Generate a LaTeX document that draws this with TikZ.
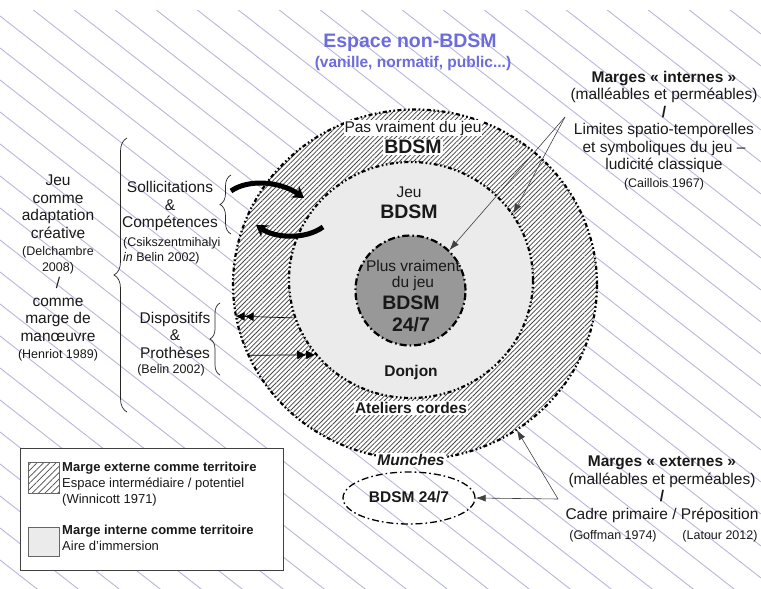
\documentclass[tikz,border=0pt]{standalone}
\usepackage{fontspec}
\setmainfont{Liberation Sans}
\usetikzlibrary{shapes.geometric,arrows.meta,patterns.meta,decorations.pathreplacing}

\definecolor{titleblue}{RGB}{108,108,220}
\definecolor{bgline}{RGB}{184,184,222}
\definecolor{innergrey}{RGB}{235,235,235}
\definecolor{coregrey}{RGB}{152,152,152}
\definecolor{hatchgrey}{RGB}{70,70,70}

\newcommand{\sznorm}{\fontsize{15.5}{17.5}\selectfont}
\newcommand{\szsmall}{\fontsize{12.5}{15}\selectfont}
\newcommand{\szbig}{\fontsize{19.5}{21}\selectfont}
\newcommand{\szleg}{\fontsize{13}{16}\selectfont}

\tikzset{
  lbl/.style={inner sep=0pt, font=\sznorm, text=black!90},
  lblbold/.style={lbl, font=\sznorm\bfseries},
  lblbig/.style={lbl, font=\szbig\bfseries},
  cite/.style={lbl, font=\szsmall},
  whitebox/.style={fill=white, inner sep=1pt},
  ringline/.style={draw, line width=2.2pt, dash pattern=on 4pt off 2.5pt on 1.6pt off 2.5pt on 1.6pt off 2.5pt},
  pointer/.style={draw=black!75, line width=0.6pt, -{Latex[length=10pt,width=7pt]}},
  dblpointer/.style={draw=black, line width=0.7pt, -{Latex[length=9pt,width=9pt] Latex[length=9pt,width=9pt]}},
  swoosh/.style={line width=5pt, -{Stealth[length=11pt,width=14pt]}},
  bracket/.style={draw=black!85, line width=0.7pt, decorate}
}

\begin{document}
\begin{tikzpicture}[x=1pt,y=-1pt]
\useasboundingbox (0,0) rectangle (761,589);
\fill[white] (0,0) rectangle (761,589);

% fond hachure (espace non-BDSM)
\begin{scope}
  \clip (0,10) rectangle (761,589);
  \foreach \c in {-624,-592,...,592}
    \draw[bgline, line width=0.9pt] (0,\c) -- (761,{\c+594});
\end{scope}

% les trois espaces
\node[ellipse, ringline, minimum width=364pt, minimum height=350pt, inner sep=0pt,
      preaction={fill=white}, pattern={Lines[angle=45,distance=3.3pt,line width=0.75pt]},
      pattern color=hatchgrey] (outer) at (415,284.5) {};
\node[ellipse, ringline, fill=innergrey, minimum width=244pt, minimum height=236pt,
      inner sep=0pt] (inner) at (411,280) {};
\node[circle, draw, fill=coregrey, line width=2.2pt, minimum size=110pt, inner sep=0pt,
      dash pattern=on 7pt off 3pt on 1.6pt off 3pt] (core) at (410.5,290.5) {};
\node[ellipse, draw, line width=1.3pt, minimum width=132pt, minimum height=52pt, inner sep=0pt,
      dash pattern=on 7pt off 3pt on 1.6pt off 3pt] (munch) at (409,498) {};

% titre
\node[lbl, font=\szbig\bfseries, text=titleblue] (title) at (410,43) {Espace non-BDSM};
\node[lbl, font=\sznorm\bfseries, text=titleblue] (subtitle) at (413,63) {(vanille, normatif, public...)};

% textes des espaces
\node[lbl, whitebox] (pasjeu) at (413,128) {Pas vraiment du jeu};
\node[lblbig, whitebox] (pasbdsm) at (413,147) {BDSM};
\node[lbl] (jeu) at (409,192) {Jeu};
\node[lblbig] (jeubdsm) at (409,212) {BDSM};
\node[lbl] (plus) at (413,266) {Plus vraiment};
\node[lbl] (plusjeu) at (413,283) {du jeu};
\node[lblbig] (plusbdsm) at (411,303) {BDSM};
\node[lblbig] (plus247) at (411,325) {24/7};
\node[lblbold] (donjon) at (411,372) {Donjon};
\node[lblbold, whitebox] (ateliers) at (411,408) {Ateliers cordes};
\node[lblbold, whitebox, font=\sznorm\bfseries\itshape] (munches) at (411,460) {Munches};
\node[lblbold] (bdsm247) at (409,497) {BDSM 24/7};

% marges internes
\node[lbl, align=center, anchor=north] (mint) at (664,71) {%
  {\bfseries Marges « internes »}\\
  (malléables et perméables)\\
  {\bfseries /}\\
  Limites spatio-temporelles\\
  et symboliques du jeu –\\
  ludicité classique\\
  {\szsmall (Caillois 1967)}};
\coordinate (mintpt) at (565,117);
\draw[pointer] (mintpt) -- (inner.33);
\draw[pointer] (mintpt) -- (core.46);

% marges externes
\node[lbl, align=center, anchor=north] (mext) at (662,456) {%
  {\bfseries Marges « externes »}\\
  (malléables et perméables)\\
  {\bfseries /}\\
  Cadre primaire / Préposition};
\node[cite] (goffman) at (613,536) {(Goffman 1974)};
\node[cite] (latour) at (720,536) {(Latour 2012)};
\coordinate (mextpt) at (558,499);
\draw[pointer] (mextpt) -- (outer.-55);
\draw[pointer] (mextpt) -- (munch.east);

% colonne de gauche
\node[lbl, align=center, anchor=north] (adapt) at (58,175) {%
  Jeu\\comme\\adaptation\\créative\\
  {\szsmall (Delchambre}\\[-2pt]{\szsmall 2008)}\\
  /\\comme\\marge de\\manœuvre\\
  {\szsmall (Henriot 1989)}};
\draw[bracket, decoration={brace, amplitude=13pt}] (127,412) -- (127,138);

\node[lbl, align=center] (sollic) at (170,206) {Sollicitations\\\&\\Compétences};
\node[cite, align=left, anchor=north west] (csik) at (123,237) {(Csikszentmihalyi\\\textit{in} Belin 2002)};
\draw[bracket, decoration={brace, amplitude=11pt}] (231,234) -- (231,175);

\node[lbl, align=center] (dispo) at (175,335) {Dispositifs\\\&\\Prothèses};
\node[cite] (belin) at (171,370) {(Belin 2002)};
\draw[bracket, decoration={brace, amplitude=10pt}] (220,375) -- (220,303);

% echanges entre marge et jeu
\coordinate (swa) at (231,191);
\coordinate (swb) at (304,198);
\coordinate (swc) at (323,227);
\coordinate (swd) at (256,225);
\draw[swoosh] (swa) .. controls (248,179) and (280,181) .. (swb);
\draw[swoosh] (swc) .. controls (305,240) and (275,238) .. (swd);
\draw[dblpointer] (inner.198) -- (outer.190);
\draw[dblpointer] (outer.203) -- (inner.218);

% legende
\node[draw=black!75, fill=white, line width=0.8pt, minimum width=263pt, minimum height=122pt,
      anchor=north west, inner sep=0pt] (legend) at (20,448) {};
\node[draw=black!60, minimum size=31pt, inner sep=0pt, preaction={fill=white},
      pattern={Lines[angle=45,distance=4.5pt,line width=0.7pt]}, pattern color=black!70] (hatchsq) at (43.5,477.5) {};
\node[draw=black!60, fill=innergrey, minimum width=31pt, minimum height=29pt, inner sep=0pt] (greysq) at (43.5,541.5) {};
\node[lbl, font=\szleg, align=left, anchor=north west] (legext) at (62,462) {%
  {\bfseries Marge externe comme territoire}\\
  Espace intermédiaire / potentiel\\
  (Winnicott 1971)};
\node[lbl, font=\szleg, align=left, anchor=north west] (legint) at (62,525) {%
  {\bfseries Marge interne comme territoire}\\
  Aire d'immersion};
\end{tikzpicture}
\end{document}
